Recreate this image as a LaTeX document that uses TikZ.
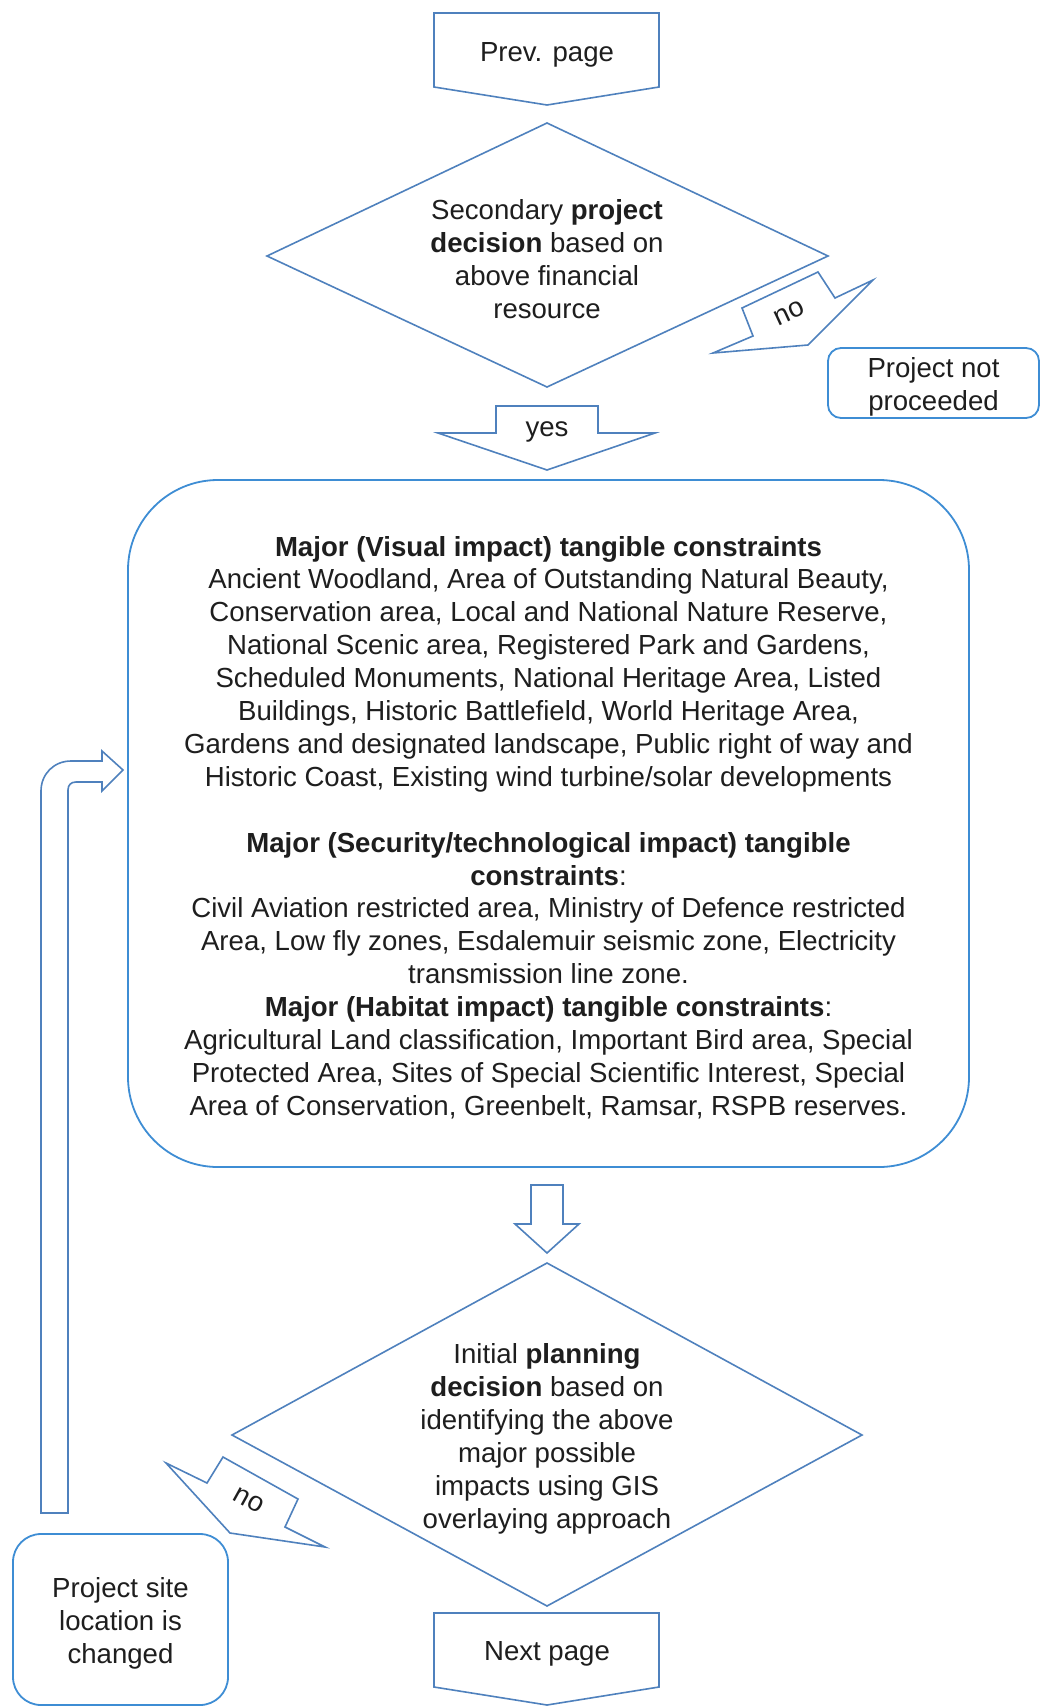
\documentclass[tikz,border=0pt]{standalone}
\usepackage{fontspec}
\setmainfont{Liberation Sans}
\definecolor{shapeblue}{HTML}{4F81BD}
\definecolor{boxblue}{HTML}{3E8DD4}
\definecolor{ink}{HTML}{1E1E1E}
\begin{document}
\begin{tikzpicture}[x=1pt,y=-1pt,
  shape line/.style={draw=shapeblue,line width=1.6pt,line join=miter,fill=white},
  roundbox/.style={draw=boxblue,line width=1.8pt,fill=white,inner sep=0pt},
  txt/.style={inner sep=0pt,align=center,text=ink,yshift=-4pt,font=\fontsize{27.6}{33}\selectfont}]
\useasboundingbox (0,0) rectangle (1041,1708);

% off-page connector from the previous page
\draw[shape line] (434,13) -- (659,13) -- (659,87) -- (547,105) -- (434,87) -- cycle;
\node[txt] (prev) at (547,51) {Prev. page};

% first decision
\draw[shape line] (267,256) -- (547,123) -- (828,256) -- (547,387) -- cycle;
\node[txt] (dec1) at (547,255.5) {Secondary \textbf{project}\\\textbf{decision} based on\\above financial\\resource};

% "no" block arrow to the stop box
\draw[shape line] (742,308) -- (818,272) -- (835,298) -- (873,280) -- (808,345) -- (713,353) -- (753,336) -- cycle;
\node[txt,rotate=25,yshift=4pt] (no1) at (791,313) {no};

\node[roundbox,rounded corners=13pt,minimum width=211pt,minimum height=70pt] (stopbox) at (933.5,383) {};
\node[txt] (stop) at (stopbox.center) {Project not\\proceeded};

% "yes" block arrow
\draw[shape line] (496,406) -- (598,406) -- (598,433) -- (655,433) -- (547,470) -- (438,433) -- (496,433) -- cycle;
\node[txt] (yes) at (547,428) {yes};

% constraints box
\node[roundbox,rounded corners=90pt,minimum width=841pt,minimum height=687pt] (consbox) at (548.5,823.5) {};
\node[txt,font=\fontsize{27.6}{32.9}\selectfont] (cons) at (consbox.center) {%
\textbf{Major (Visual impact) tangible constraints}\\
Ancient Woodland, Area of Outstanding Natural Beauty,\\
Conservation area, Local and National Nature Reserve,\\
National Scenic area, Registered Park and Gardens,\\
Scheduled Monuments, National Heritage Area, Listed\\
Buildings, Historic Battlefield, World Heritage Area,\\
Gardens and designated landscape, Public right of way and\\
Historic Coast, Existing wind turbine/solar developments\\
\strut\\
\textbf{Major (Security/technological impact) tangible}\\
\textbf{constraints}:\\
Civil Aviation restricted area, Ministry of Defence restricted\\
Area, Low fly zones, Esdalemuir seismic zone, Electricity\\
transmission line zone.\\
\textbf{Major (Habitat impact) tangible constraints}:\\
Agricultural Land classification, Important Bird area, Special\\
Protected Area, Sites of Special Scientific Interest, Special\\
Area of Conservation, Greenbelt, Ramsar, RSPB reserves.};

% loop-back bent arrow into the constraints box
\draw[shape line] (41,1513) -- (41,791) .. controls (41,774) and (54,761) .. (71,761)
  -- (102,761) -- (102,751) -- (123,770) -- (102,791) -- (102,782) -- (76,782)
  .. controls (71,782) and (68,785) .. (68,790) -- (68,1513) -- cycle;

% down block arrow
\draw[shape line] (531,1185) -- (563,1185) -- (563,1224) -- (579,1224) -- (547,1253) -- (515,1224) -- (531,1224) -- cycle;

% second decision
\draw[shape line] (232,1435) -- (547,1263) -- (862,1435) -- (547,1606) -- cycle;
\node[txt] (dec2) at (547,1434.6) {Initial \textbf{planning}\\\textbf{decision} based on\\identifying the above\\major possible\\impacts using GIS\\overlaying approach};

% "no" block arrow to the relocation box
\draw[shape line] (223,1457) -- (298,1499) -- (285,1527) -- (325,1547) -- (230,1533) -- (166,1463) -- (207,1483) -- cycle;
\node[txt,rotate=-29,yshift=4pt] (no2) at (247,1500) {no};

\node[roundbox,rounded corners=28pt,minimum width=215pt,minimum height=171pt] (relocbox) at (120.5,1619.5) {};
\node[txt] (relocate) at (relocbox.center) {Project site\\location is\\changed};

% off-page connector to the next page
\draw[shape line] (434,1613) -- (659,1613) -- (659,1687) -- (547,1705) -- (434,1687) -- cycle;
\node[txt] (next) at (547,1650) {Next page};
\end{tikzpicture}
\end{document}
